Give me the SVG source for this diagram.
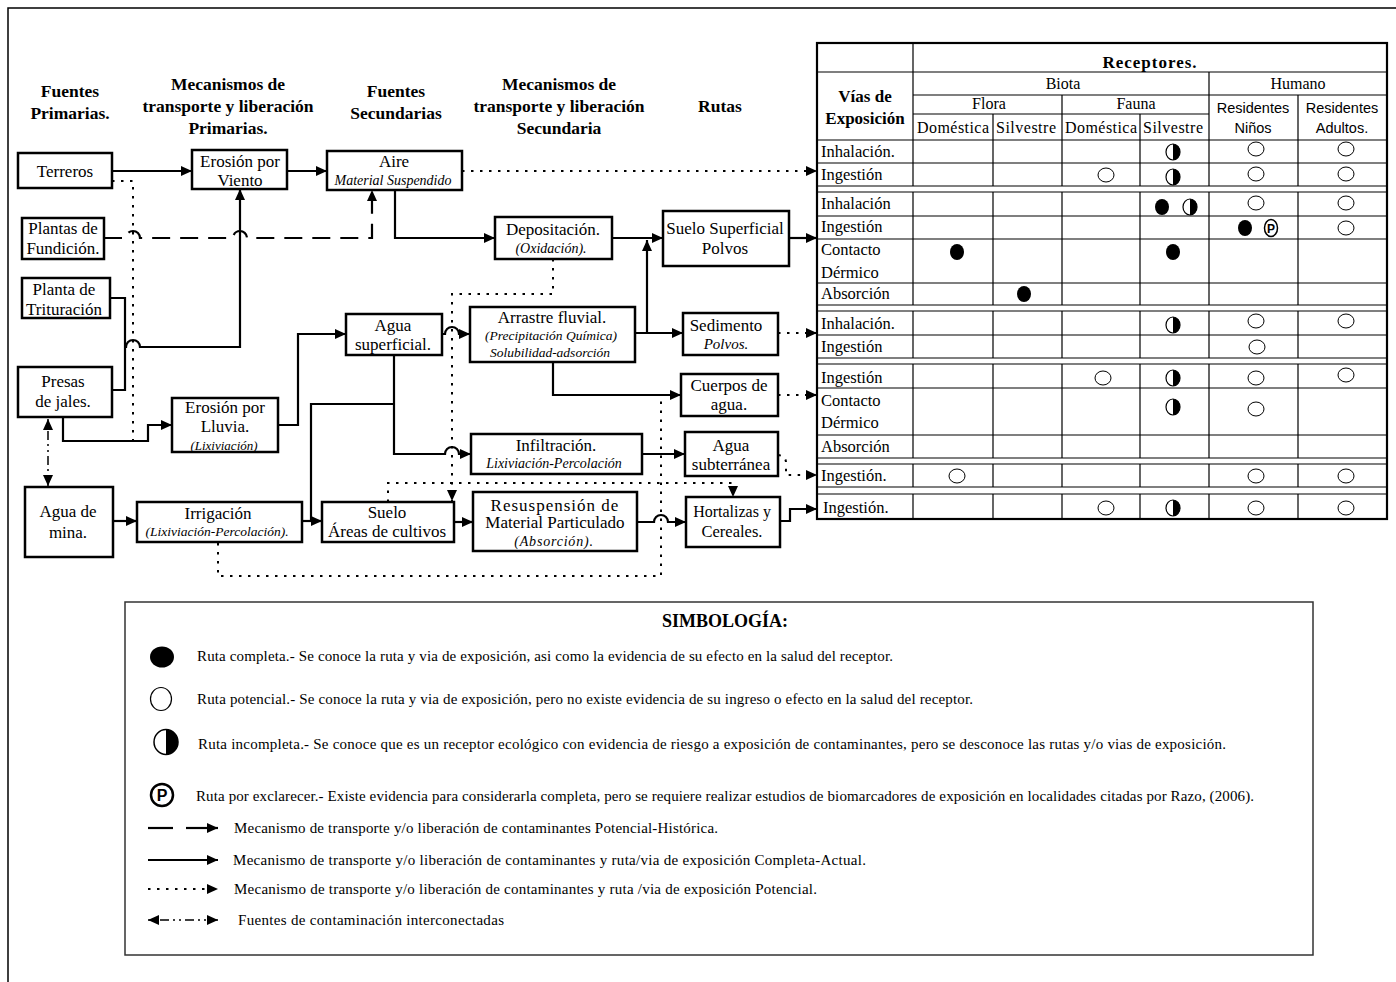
<svg xmlns="http://www.w3.org/2000/svg" xmlns:xlink="http://www.w3.org/1999/xlink" width="1396" height="982" viewBox="0 0 1396 982">
<style>
text{font-family:"Liberation Serif","Times New Roman",serif;fill:#000}
.n{font-size:17px;text-anchor:middle}
.i{font-size:14px;font-style:italic;text-anchor:middle}
.h{font-size:17.5px;font-weight:bold;text-anchor:middle}
.box{fill:#fff;stroke:#000;stroke-width:2.5}
.s{fill:none;stroke:#000;stroke-width:2.2}
.d{fill:none;stroke:#000;stroke-width:2;stroke-dasharray:2.5 6.5}
.ds{fill:none;stroke:#000;stroke-width:2.2;stroke-dasharray:18 10}
.dd{fill:none;stroke:#000;stroke-width:1.5;stroke-dasharray:2 4 2 4 9 4}
.tl{fill:none;stroke:#000;stroke-width:1.2}
.rl{font-size:16.5px}
.th{font-size:16px;text-anchor:middle}
.ts{font-family:"Liberation Sans",Arial,sans-serif;font-size:14.5px;text-anchor:middle}
.lg{font-size:15px}
</style>
<defs>
<marker id="ah" markerUnits="userSpaceOnUse" markerWidth="12" markerHeight="10" refX="11" refY="5" orient="auto-start-reverse"><path d="M0,0 L11,5 L0,10 Z" fill="#000"/></marker>
<g id="full"><ellipse rx="7" ry="8" fill="#000"/></g>
<g id="open"><ellipse rx="8" ry="7" fill="#fff" stroke="#000" stroke-width="1"/></g>
<g id="half"><ellipse rx="7" ry="8" fill="#fff" stroke="#000" stroke-width="1.2"/><path d="M0,-8 A7,8 0 0 1 0,8 Z" fill="#000"/></g>
</defs>
<rect x="8" y="8" width="1400" height="990" fill="#fff" stroke="#000" stroke-width="1.5"/>

<g id="headers">
<text class="h" x="70" y="97">Fuentes</text><text class="h" x="70" y="119">Primarias.</text>
<text class="h" x="228" y="90">Mecanismos de</text><text class="h" x="228" y="112">transporte y liberación</text><text class="h" x="228" y="134">Primarias.</text>
<text class="h" x="396" y="97">Fuentes</text><text class="h" x="396" y="119">Secundarias</text>
<text class="h" x="559" y="90">Mecanismos de</text><text class="h" x="559" y="112">transporte y liberación</text><text class="h" x="559" y="134">Secundaria</text>
<text class="h" x="720" y="112">Rutas</text>
</g>

<g id="connectors">
<path class="s" d="M112,171 H192" marker-end="url(#ah)"/>
<path class="s" d="M287,171 H327" marker-end="url(#ah)"/>
<path class="d" d="M462,171 H817" marker-end="url(#ah)"/>
<path class="s" d="M395,190 V238 H495" marker-end="url(#ah)"/>
<path class="s" d="M612,238 H663" marker-end="url(#ah)"/>
<path class="s" d="M789,238 H817" marker-end="url(#ah)"/>
<path class="ds" d="M104,238 H126 a7,7 0 0 1 14,0 H233 a7,7 0 0 1 14,0 H372 V190" marker-end="url(#ah)"/>
<path class="d" d="M112,181 H133 V441"/>
<path class="s" d="M110,298 H125 V390 H112"/>
<path class="s" d="M125,347 H126 a7,7 0 0 1 14,0 H240 V189" marker-end="url(#ah)"/>
<path class="s" d="M63,417 V441 H148 V425 H172" marker-end="url(#ah)"/>
<path class="dd" d="M48,419 V486" marker-start="url(#ah)" marker-end="url(#ah)"/>
<path class="s" d="M278,425 H298 V334 H346" marker-end="url(#ah)"/>
<path class="s" d="M113,521 H137" marker-end="url(#ah)"/>
<path class="s" d="M302,521 H322" marker-end="url(#ah)"/>
<path class="s" d="M311,521 V404 H394"/>
<path class="s" d="M394,355 V454 H445 a7,7 0 0 1 14,0 H471" marker-end="url(#ah)"/>
<path class="s" d="M442,334 H445 a7,7 0 0 1 14,0 H470" marker-end="url(#ah)"/>
<path class="s" d="M635,333 H683" marker-end="url(#ah)"/>
<path class="s" d="M647,333 V240" marker-end="url(#ah)"/>
<path class="d" d="M778,333 H817" marker-end="url(#ah)"/>
<path class="s" d="M553,362 V395 H681" marker-end="url(#ah)"/>
<path class="d" d="M778,395 H817" marker-end="url(#ah)"/>
<path class="s" d="M642,454 H685" marker-end="url(#ah)"/>
<path class="d" d="M778,455 Q786,456 786,463 V475 H817" marker-end="url(#ah)"/>
<path class="s" d="M454,522 H473" marker-end="url(#ah)"/>
<path class="s" d="M637,522 H654 a7,7 0 0 1 14,0 H686" marker-end="url(#ah)"/>
<path class="s" d="M780,521 H790 V509 H817" marker-end="url(#ah)"/>
<path class="d" d="M553,259 V294 H452 V501" marker-end="url(#ah)"/>
<path class="d" d="M388,502 V483 H733 V497" marker-end="url(#ah)"/>
<path class="d" d="M218,543 V576 H661 V397"/>
</g>

<g id="terreros"><rect class="box" x="18" y="153" width="94" height="35"/><text class="n" x="65" y="177">Terreros</text></g>
<g id="erosion-viento"><rect class="box" x="192" y="150" width="95" height="39"/><text class="n" x="240" y="167">Erosión por</text><text class="n" x="240" y="186">Viento</text></g>
<g id="aire"><rect class="box" x="327" y="151" width="135" height="39"/><text class="n" x="394" y="167">Aire</text><text class="i" x="393" y="185">Material Suspendido</text></g>
<g id="plantas-fundicion"><rect class="box" x="22" y="218" width="82" height="41"/><text class="n" x="63" y="234">Plantas de</text><text class="n" x="63" y="254">Fundición.</text></g>
<g id="planta-trituracion"><rect class="box" x="22" y="278" width="88" height="40"/><text class="n" x="64" y="295">Planta de</text><text class="n" x="64" y="315">Trituración</text></g>
<g id="presas"><rect class="box" x="18" y="367" width="94" height="50"/><text class="n" x="63" y="387">Presas</text><text class="n" x="63" y="407">de jales.</text></g>
<g id="agua-mina"><rect class="box" x="25" y="487" width="88" height="70"/><text class="n" x="68" y="517">Agua de</text><text class="n" x="68" y="538">mina.</text></g>
<g id="erosion-lluvia"><rect class="box" x="172" y="398" width="106" height="54"/><text class="n" x="225" y="413">Erosión por</text><text class="n" x="225" y="432">Lluvia.</text><text class="i" x="224" y="450" style="font-size:13px">(Lixiviación)</text></g>
<g id="agua-superficial"><rect class="box" x="346" y="314" width="96" height="41"/><text class="n" x="393" y="331">Agua</text><text class="n" x="393" y="350">superficial.</text></g>
<g id="depositacion"><rect class="box" x="495" y="217" width="117" height="42"/><text class="n" x="553" y="235">Depositación.</text><text class="i" x="551" y="253">(Oxidación).</text></g>
<g id="arrastre"><rect class="box" x="470" y="307" width="165" height="55"/><text class="n" x="552" y="323">Arrastre fluvial.</text><text class="i" x="551" y="340" style="font-size:13.5px">(Precipitación Química)</text><text class="i" x="550" y="357" style="font-size:13.5px">Solubilidad-adsorción</text></g>
<g id="infiltracion"><rect class="box" x="471" y="434" width="171" height="40"/><text class="n" x="556" y="451">Infiltración.</text><text class="i" x="554" y="468">Lixiviación-Percolación</text></g>
<g id="irrigacion"><rect class="box" x="137" y="502" width="165" height="40"/><text class="n" x="218" y="519">Irrigación</text><text class="i" x="217" y="536" style="font-size:13.5px">(Lixiviación-Percolación).</text></g>
<g id="suelo-cultivos"><rect class="box" x="322" y="502" width="132" height="40"/><text class="n" x="387" y="518">Suelo</text><text class="n" x="387" y="537">Áreas de cultivos</text></g>
<g id="resuspension"><rect class="box" x="473" y="492" width="164" height="59"/><text class="n" x="555" y="511" style="letter-spacing:1px">Resuspensión de</text><text class="n" x="555" y="528">Material Particulado</text><text class="i" x="554" y="546" style="letter-spacing:0.8px">(Absorción).</text></g>
<g id="suelo-superficial"><rect class="box" x="663" y="211" width="126" height="55"/><text class="n" x="725" y="234">Suelo Superficial</text><text class="n" x="725" y="254">Polvos</text></g>
<g id="sedimento"><rect class="box" x="683" y="313" width="95" height="42"/><text class="n" x="726" y="331">Sedimento</text><text class="i" x="726" y="349" style="font-size:15px">Polvos.</text></g>
<g id="cuerpos-agua"><rect class="box" x="681" y="374" width="97" height="42"/><text class="n" x="729" y="391">Cuerpos de</text><text class="n" x="729" y="410">agua.</text></g>
<g id="agua-subterranea"><rect class="box" x="685" y="432" width="93" height="44"/><text class="n" x="731" y="451">Agua</text><text class="n" x="731" y="470">subterránea</text></g>
<g id="hortalizas"><rect class="box" x="686" y="497" width="94" height="50"/><text class="n" x="732" y="517" style="font-size:16px">Hortalizas y</text><text class="n" x="732" y="537" style="font-size:16.5px">Cereales.</text></g>

<g id="table">
<rect x="817" y="43" width="570" height="476" fill="#fff" stroke="#000" stroke-width="2.2"/>
<path class="tl" d="M817,72 H1387 M913,95 H1387 M913,114 H1209 M817,140 H1387 M913,43 V140 M1209,72 V140 M1062,95 V140 M993,114 V140 M1140,114 V140 M1298,95 V140"/>
<path class="tl" d="M817,163 H1387 M817,186 H1387 M817,192 H1387 M817,216 H1387 M817,239 H1387 M817,283 H1387 M817,305 H1387 M817,311 H1387 M817,335 H1387 M817,358 H1387 M817,364 H1387 M817,388 H1387 M817,435 H1387 M817,458 H1387 M817,464 H1387 M817,487 H1387 M817,494 H1387"/>
<path class="tl" d="M913,140 V186 M993,140 V186 M1062,140 V186 M1140,140 V186 M1209,140 V186 M1298,140 V186
M913,192 V305 M993,192 V305 M1062,192 V305 M1140,192 V305 M1209,192 V305 M1298,192 V305
M913,311 V358 M993,311 V358 M1062,311 V358 M1140,311 V358 M1209,311 V358 M1298,311 V358
M913,364 V458 M993,364 V458 M1062,364 V458 M1140,364 V458 M1209,364 V458 M1298,364 V458
M913,464 V487 M993,464 V487 M1062,464 V487 M1140,464 V487 M1209,464 V487 M1298,464 V487
M913,494 V519 M993,494 V519 M1062,494 V519 M1140,494 V519 M1209,494 V519 M1298,494 V519"/>
<text class="h" x="1150" y="68" style="font-size:17px;letter-spacing:1px">Receptores.</text>
<text class="h" x="865" y="102" style="font-size:17px">Vías de</text>
<text class="h" x="865" y="124" style="font-size:17px">Exposición</text>
<text class="th" x="1063" y="89">Biota</text>
<text class="th" x="1298" y="89">Humano</text>
<text class="th" x="989" y="109">Flora</text>
<text class="th" x="1136" y="109">Fauna</text>
<text class="th" x="953" y="133" textLength="72">Doméstica</text>
<text class="th" x="1026" y="133" textLength="60">Silvestre</text>
<text class="th" x="1101" y="133" textLength="72">Doméstica</text>
<text class="th" x="1173" y="133" textLength="60">Silvestre</text>
<text class="ts" x="1253" y="113">Residentes</text>
<text class="ts" x="1253" y="133">Niños</text>
<text class="ts" x="1342" y="113">Residentes</text>
<text class="ts" x="1342" y="133">Adultos.</text>
<text class="rl" x="821" y="157">Inhalación.</text>
<text class="rl" x="821" y="180">Ingestión</text>
<text class="rl" x="821" y="209">Inhalación</text>
<text class="rl" x="821" y="232">Ingestión</text>
<text class="rl" x="821" y="255">Contacto</text>
<text class="rl" x="821" y="278">Dérmico</text>
<text class="rl" x="821" y="299">Absorción</text>
<text class="rl" x="821" y="329">Inhalación.</text>
<text class="rl" x="821" y="352">Ingestión</text>
<text class="rl" x="821" y="383">Ingestión</text>
<text class="rl" x="821" y="406">Contacto</text>
<text class="rl" x="821" y="428">Dérmico</text>
<text class="rl" x="821" y="452">Absorción</text>
<text class="rl" x="821" y="481">Ingestión.</text>
<text class="rl" x="823" y="513">Ingestión.</text>
<use xlink:href="#half" x="1173" y="152"/><use xlink:href="#open" x="1256" y="149"/><use xlink:href="#open" x="1346" y="149"/>
<use xlink:href="#open" x="1106" y="175"/><use xlink:href="#half" x="1173" y="177"/><use xlink:href="#open" x="1256" y="174"/><use xlink:href="#open" x="1346" y="174"/>
<use xlink:href="#full" x="1162" y="207"/><use xlink:href="#half" x="1190" y="207"/><use xlink:href="#open" x="1256" y="203"/><use xlink:href="#open" x="1346" y="203"/>
<use xlink:href="#full" x="1245" y="228"/>
<g><ellipse cx="1271" cy="228" rx="6.5" ry="8.5" fill="#fff" stroke="#000" stroke-width="1.5"/><text x="1271" y="233" style="font-family:'Liberation Sans',Arial,sans-serif;font-size:12px;font-weight:bold;text-anchor:middle">P</text></g>
<use xlink:href="#open" x="1346" y="228"/>
<use xlink:href="#full" x="957" y="252"/><use xlink:href="#full" x="1173" y="252"/>
<use xlink:href="#full" x="1024" y="294"/>
<use xlink:href="#half" x="1173" y="325"/><use xlink:href="#open" x="1256" y="321"/><use xlink:href="#open" x="1346" y="321"/>
<use xlink:href="#open" x="1257" y="347"/>
<use xlink:href="#open" x="1103" y="378"/><use xlink:href="#half" x="1173" y="378"/><use xlink:href="#open" x="1256" y="378"/><use xlink:href="#open" x="1346" y="375"/>
<use xlink:href="#half" x="1173" y="407"/><use xlink:href="#open" x="1256" y="409"/>
<use xlink:href="#open" x="957" y="476"/><use xlink:href="#open" x="1256" y="476"/><use xlink:href="#open" x="1346" y="476"/>
<use xlink:href="#open" x="1106" y="508"/><use xlink:href="#half" x="1173" y="508"/><use xlink:href="#open" x="1256" y="508"/><use xlink:href="#open" x="1346" y="508"/>
</g>

<g id="legend">
<rect x="125" y="602" width="1188" height="353" fill="#fff" stroke="#333" stroke-width="1.5"/>
<text class="h" x="725" y="627" style="font-size:18px">SIMBOLOGÍA:</text>
<ellipse cx="162" cy="657" rx="12" ry="10.5" fill="#000"/>
<text class="lg" x="197" y="661" textLength="696" lengthAdjust="spacing">Ruta completa.- Se conoce la ruta y via de exposición, asi como la evidencia de su efecto en la salud del receptor.</text>
<ellipse cx="161" cy="699" rx="10.5" ry="11.5" fill="#fff" stroke="#000" stroke-width="1.2"/>
<text class="lg" x="197" y="704" textLength="776" lengthAdjust="spacing">Ruta potencial.- Se conoce la ruta y via de exposición, pero no existe evidencia de su ingreso o efecto en la salud del receptor.</text>
<ellipse cx="166" cy="742" rx="12" ry="12.5" fill="#fff" stroke="#000" stroke-width="1.5"/>
<path d="M166,729.5 A12,12.5 0 0 1 166,754.5 Z" fill="#000"/>
<text class="lg" x="198" y="749" textLength="1028" lengthAdjust="spacing">Ruta incompleta.- Se conoce que es un receptor ecológico con evidencia de riesgo a exposición de contaminantes, pero se desconoce las rutas y/o vias de exposición.</text>
<circle cx="162" cy="795" r="11" fill="#fff" stroke="#000" stroke-width="2.5"/>
<text x="162" y="801" style="font-family:'Liberation Sans',Arial,sans-serif;font-size:16px;font-weight:bold;text-anchor:middle">P</text>
<text class="lg" x="196" y="801" textLength="1058" lengthAdjust="spacing">Ruta por exclarecer.- Existe evidencia para considerarla completa, pero se requiere realizar estudios  de biomarcadores de exposición en localidades citadas por Razo, (2006).</text>
<path class="s" d="M148,828 H173"/><path class="s" d="M186,828 H218" marker-end="url(#ah)"/>
<text class="lg" x="234" y="833" textLength="484" lengthAdjust="spacing">Mecanismo de transporte y/o liberación de contaminantes Potencial-Histórica.</text>
<path class="s" d="M148,860 H218" marker-end="url(#ah)"/>
<text class="lg" x="233" y="865" textLength="633" lengthAdjust="spacing">Mecanismo de transporte y/o liberación de  contaminantes y  ruta/via de  exposición Completa-Actual.</text>
<path class="d" d="M148,889 H218" style="stroke-width:1.8" marker-end="url(#ah)"/>
<text class="lg" x="234" y="894" textLength="583" lengthAdjust="spacing">Mecanismo de transporte y/o liberación de contaminantes y ruta /via de  exposición Potencial.</text>
<path class="dd" d="M148,920 H218" marker-start="url(#ah)" marker-end="url(#ah)"/>
<text class="lg" x="238" y="925" textLength="266" lengthAdjust="spacing">Fuentes de contaminación interconectadas</text>
</g>
</svg>
